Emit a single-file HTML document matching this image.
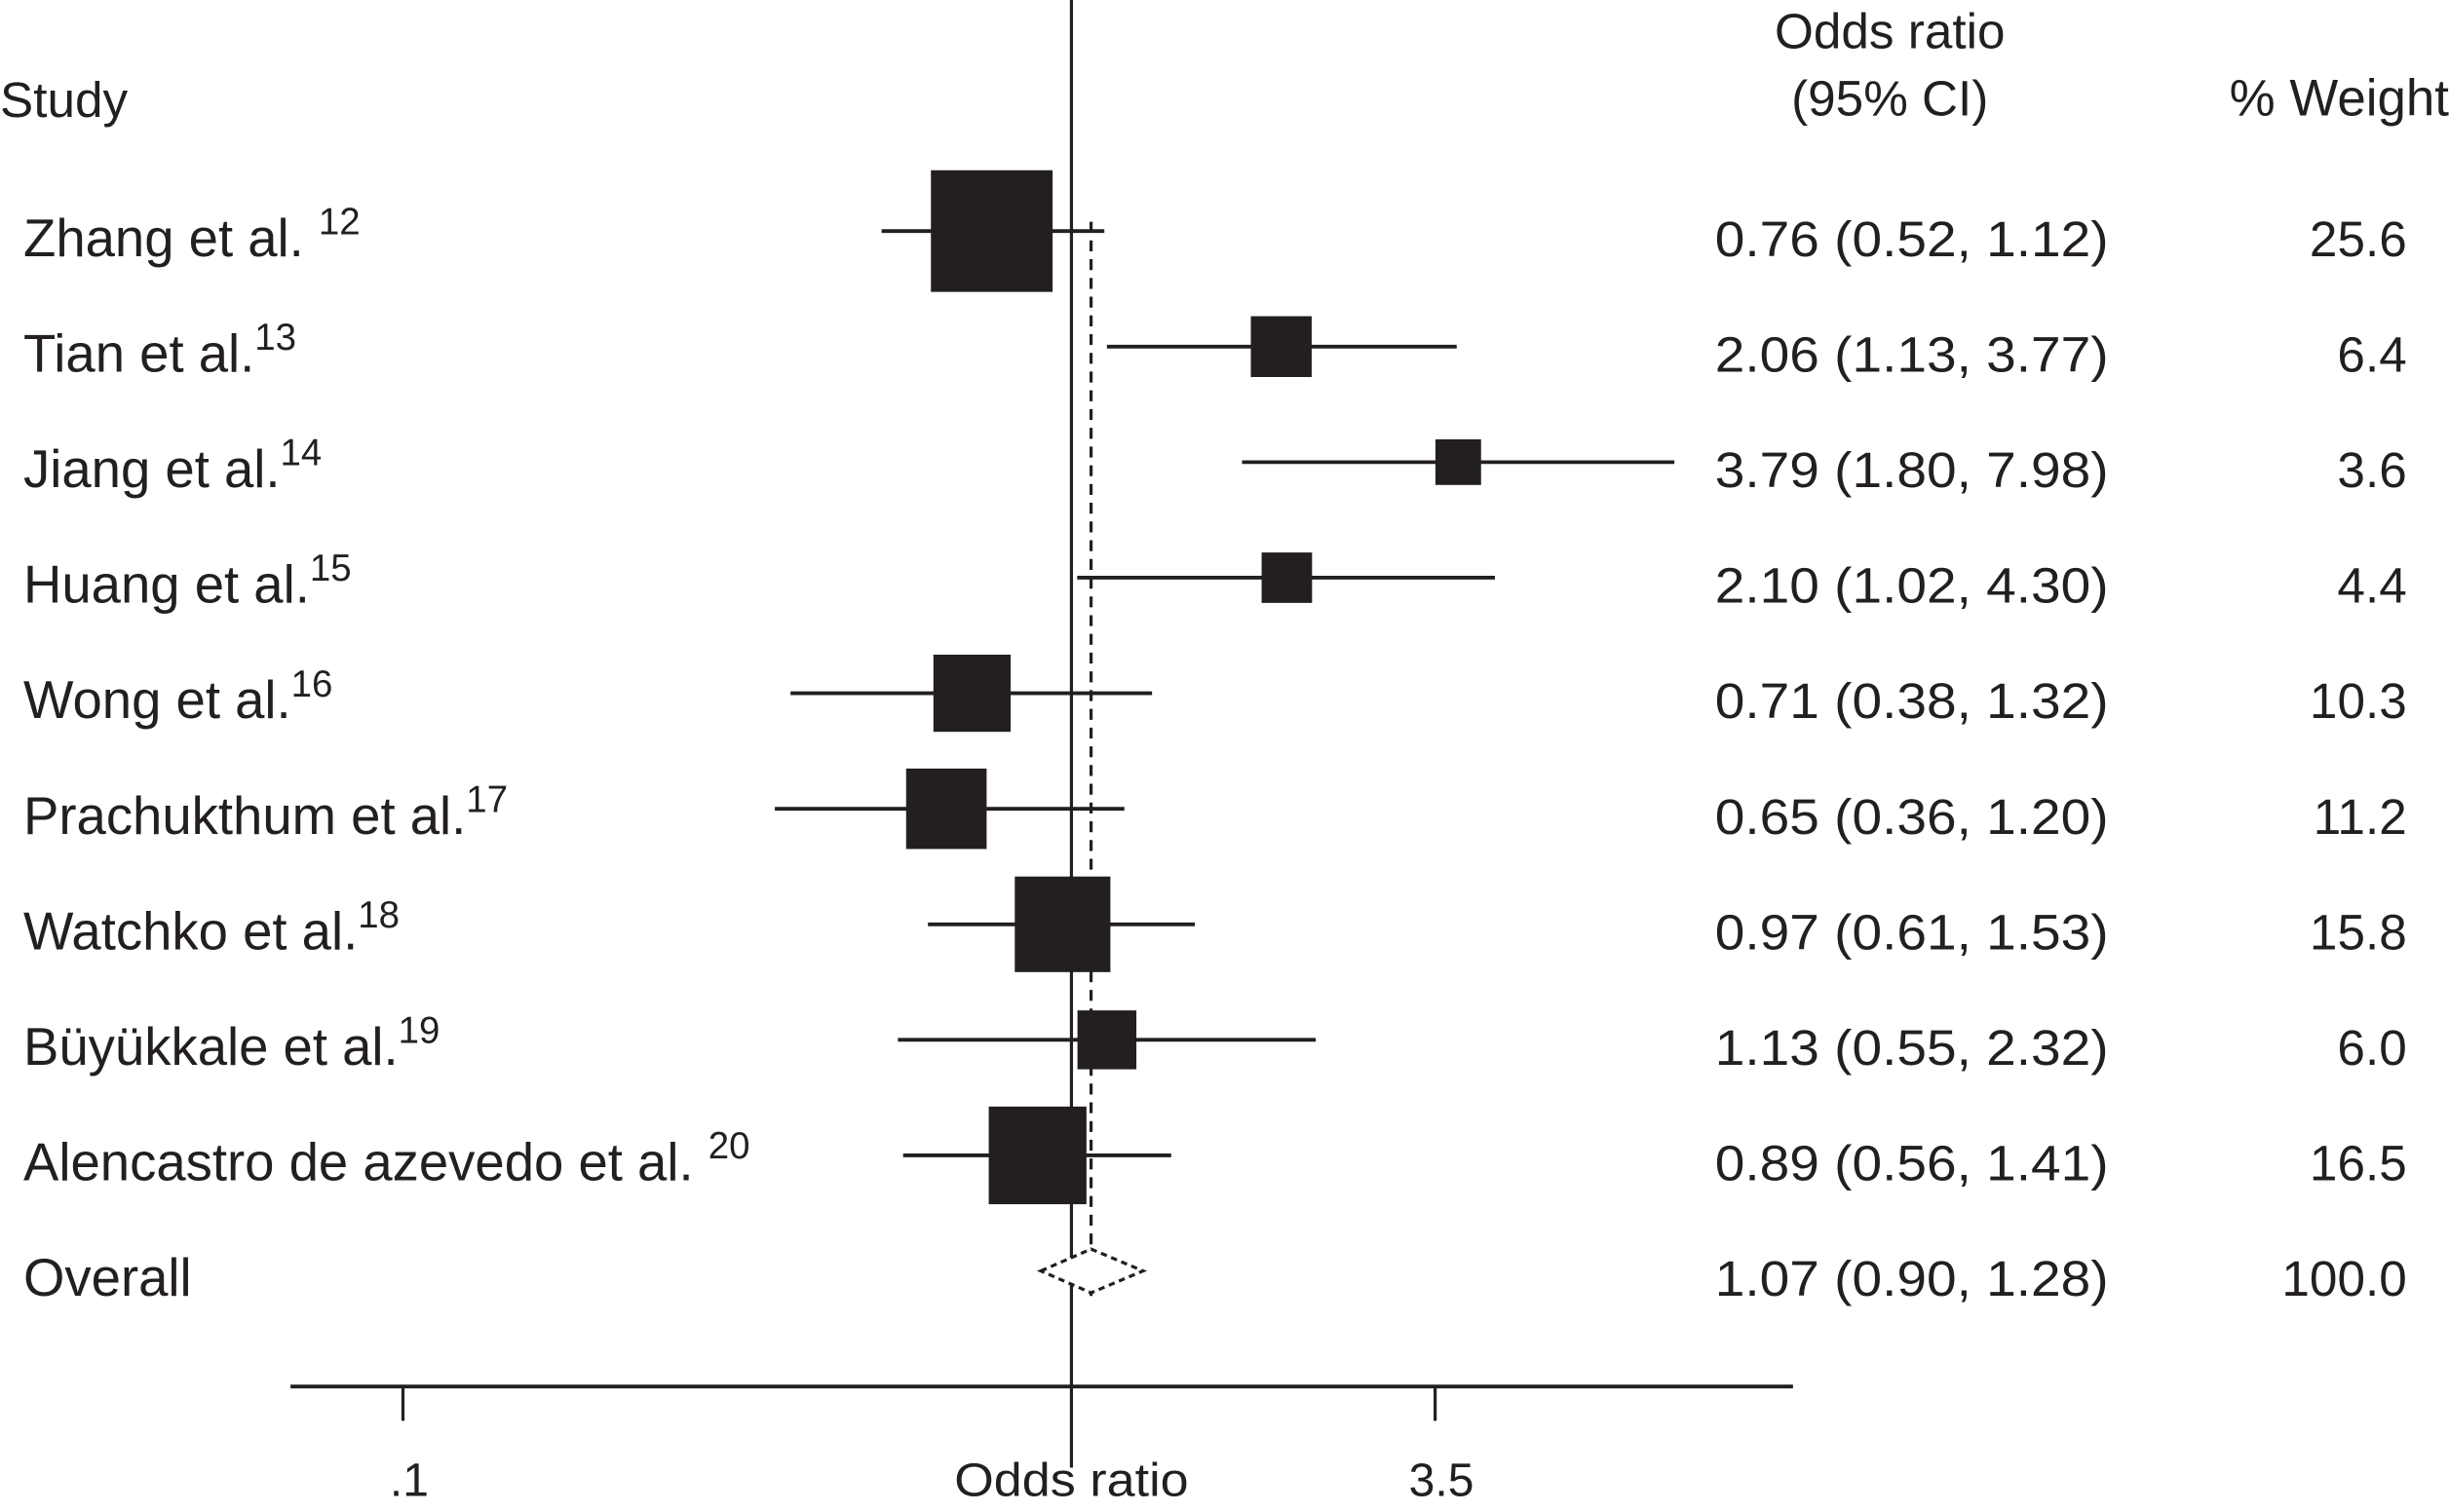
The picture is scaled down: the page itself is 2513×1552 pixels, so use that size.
<!DOCTYPE html>
<html><head><meta charset="utf-8"><style>
html,body{margin:0;padding:0;background:#fff;}
svg{display:block;}
text{font-family:"Liberation Sans",sans-serif;fill:#231f20;}
</style></head><body>
<svg id="chart" width="2513" height="1552" viewBox="0 0 1568 968.4" preserveAspectRatio="none" xmlns="http://www.w3.org/2000/svg">
<g id="static">
<text x="0" y="75" font-size="32">Study</text>
<text x="1210" y="31" font-size="32" text-anchor="middle">Odds ratio</text>
<text x="1210" y="74" font-size="32" text-anchor="middle">(95% CI)</text>
<text x="1568" y="74" font-size="33" text-anchor="end">% Weight</text>
</g>
<g id="marks"></g>
</svg>
<script>
const studies = ["Zhang et al.", "Tian et al.", "Jiang et al.", "Huang et al.", "Wong et al.", "Prachukthum et al.", "Watchko et al.", "Büyükkale et al.", "Alencastro de azevedo et al."];
const refs = ["12", "13", "14", "15", "16", "17", "18", "19", "20"];
const refGap = [true, false, false, false, false, false, false, false, true];
const orValues = [0.76, 2.06, 3.79, 2.10, 0.71, 0.65, 0.97, 1.13, 0.89];
const lowerCI = [0.52, 1.13, 1.80, 1.02, 0.38, 0.36, 0.61, 0.55, 0.56];
const upperCI = [1.12, 3.77, 7.98, 4.30, 1.32, 1.20, 1.53, 2.32, 1.41];
const weights = [25.6, 6.4, 3.6, 4.4, 10.3, 11.2, 15.8, 6.0, 16.5];
const overall = [1.07, 0.90, 1.28];
const overallWeight = 100.0;
const tickValues = [0.1, 3.5];
const tickLabels = [".1", "3.5"];

const NS = "http://www.w3.org/2000/svg";
const g = document.getElementById('marks');
const x = v => 686 + Math.log10(v) * 428;
const rowY = i => 148 + i * 74;
function mk(tag, attrs, parent) {
  const e = document.createElementNS(NS, tag);
  for (const k in attrs) e.setAttribute(k, attrs[k]);
  (parent || g).appendChild(e);
  return e;
}
const fmt = v => v.toFixed(2);

let e = mk('line', {x1: x(1), y1: 0, x2: x(1), y2: 940, stroke: '#231f20', 'stroke-width': 2});


e = mk('line', {x1: x(overall[0]), y1: 142, x2: x(overall[0]), y2: 830, stroke: '#231f20', 'stroke-width': 2, 'stroke-dasharray': '7,5'});


e = mk('line', {x1: 186, y1: 888, x2: 1148, y2: 888, stroke: '#231f20', 'stroke-width': 2.4});


tickValues.forEach((t, i) => {
  let tk = mk('line', {x1: x(t), y1: 888, x2: x(t), y2: 910, stroke: '#231f20', 'stroke-width': 2});
  
  
  let tl = mk('text', {x: x(t) + 4, y: 958, 'font-size': 30, 'text-anchor': 'middle'});
  tl.textContent = tickLabels[i];
  
  
});
e = mk('text', {x: x(1), y: 958, 'font-size': 30, 'text-anchor': 'middle', textLength: 150, lengthAdjust: 'spacingAndGlyphs'});
e.textContent = 'Odds ratio';



studies.forEach((s, i) => {
  const y = rowY(i);
  let l = mk('line', {x1: x(lowerCI[i]), y1: y, x2: x(upperCI[i]), y2: y, stroke: '#231f20', 'stroke-width': 2.4});
  
  
  const side = 15.4 * Math.sqrt(weights[i]);
  let r = mk('rect', {x: x(orValues[i]) - side / 2, y: y - side / 2, width: side, height: side, fill: '#231f20'});
  
  
  let t = mk('text', {x: 15, y: y + 16, 'font-size': 34});
  t.textContent = s + (refGap[i] ? ' ' : '');
  let sup = mk('tspan', {'font-size': 24, dy: -14}, t);
  sup.textContent = refs[i];
  
  
  let c = mk('text', {x: 1098, y: y + 16, 'font-size': 32, textLength: 252, lengthAdjust: 'spacingAndGlyphs'});
  c.textContent = fmt(orValues[i]) + ' (' + fmt(lowerCI[i]) + ', ' + fmt(upperCI[i]) + ')';
  
  
  let w = mk('text', {x: 1541, y: y + 16, 'font-size': 32, 'text-anchor': 'end'});
  w.textContent = weights[i].toFixed(1);
  
  
});

const oy = rowY(studies.length);
let d = mk('polygon', {points: [x(overall[1]) + ',' + oy, x(overall[0]) + ',' + (oy - 14), x(overall[2]) + ',' + oy, x(overall[0]) + ',' + (oy + 14)].join(' '), fill: '#fff', stroke: '#231f20', 'stroke-width': 2, 'stroke-dasharray': '4,3'});


let ot = mk('text', {x: 15, y: oy + 16, 'font-size': 34});
ot.textContent = 'Overall';


let oc = mk('text', {x: 1098, y: oy + 16, 'font-size': 32, textLength: 252, lengthAdjust: 'spacingAndGlyphs'});
oc.textContent = fmt(overall[0]) + ' (' + fmt(overall[1]) + ', ' + fmt(overall[2]) + ')';


let ow = mk('text', {x: 1541, y: oy + 16, 'font-size': 32, 'text-anchor': 'end'});
ow.textContent = overallWeight.toFixed(1);


</script>
</body></html>
